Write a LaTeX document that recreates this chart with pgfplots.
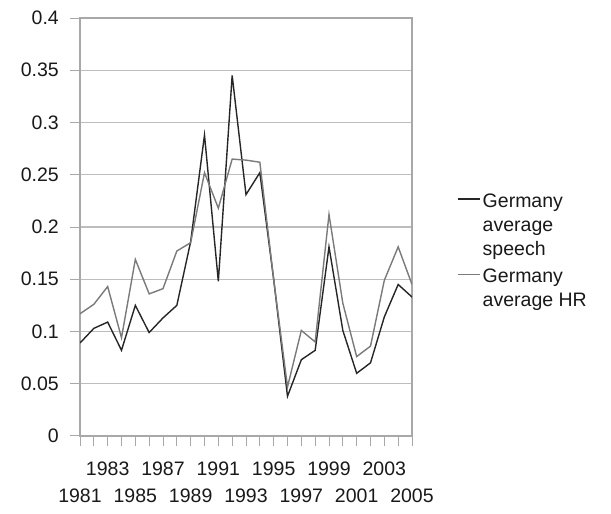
\documentclass[border=0pt]{standalone}
\usepackage{fontspec}
\setmainfont{Liberation Sans}
\usepackage{pgfplots}
\pgfplotsset{compat=1.18}
\definecolor{speechc}{HTML}{262626}
\definecolor{hrc}{HTML}{7A7A7A}
\definecolor{gridc}{HTML}{BDBDBD}
\definecolor{axc}{HTML}{A8A8A8}
\pgfplotstableread{
year speech hr
1981 0.089 0.117
1982 0.103 0.126
1983 0.109 0.143
1984 0.082 0.094
1985 0.125 0.169
1986 0.099 0.136
1987 0.113 0.141
1988 0.125 0.177
1989 0.186 0.185
1990 0.288 0.252
1991 0.148 0.218
1992 0.345 0.265
1993 0.231 0.264
1994 0.252 0.262
1995 0.150 0.150
1996 0.038 0.047
1997 0.073 0.101
1998 0.082 0.090
1999 0.181 0.212
2000 0.101 0.127
2001 0.060 0.076
2002 0.070 0.086
2003 0.114 0.149
2004 0.145 0.181
2005 0.133 0.145
}\datatable
\begin{document}
\begin{tikzpicture}
\path[use as bounding box] (0,0) rectangle (611bp,514bp);
\begin{axis}[
  at={(80bp,78bp)}, anchor=south west,
  scale only axis, width=332bp, height=418bp,
  xmin=1981, xmax=2005, ymin=0, ymax=0.4,
  ytick={0,0.05,0.1,0.15,0.2,0.25,0.3,0.35,0.4},
  yticklabels={0,0.05,0.1,0.15,0.2,0.25,0.3,0.35,0.4},
  xtick={1981,1985,1989,1993,1997,2001,2005},
  xticklabels={1981,1985,1989,1993,1997,2001,2005},
  extra x ticks={1983,1987,1991,1995,1999,2003},
  extra x tick labels={1983,1987,1991,1995,1999,2003},
  extra x tick style={grid=none, xticklabel style={yshift=27bp}},
  minor xtick={1982,1984,1986,1988,1990,1992,1994,1996,1998,2000,2002,2004},
  tick align=outside,
  major tick length=10bp, minor tick length=10bp,
  tick style={axc, line width=1bp},
  xtick pos=bottom, ytick pos=left,
  ymajorgrids, xmajorgrids=false,
  grid style={gridc, line width=1.3bp},
  axis line style={axc, line width=1.3bp},
  every tick label/.append style={font=\fontsize{19.5bp}{23bp}\selectfont, text=black!90},
  xticklabel style={anchor=north, inner sep=0pt, yshift=-43bp},
  yticklabel style={anchor=east, inner sep=0pt, xshift=-11bp},
  legend style={at={(1.127,0.59)}, anchor=north west, draw=none, fill=none,
    font=\fontsize{19.5bp}{24bp}\selectfont, text=black!90,
    cells={align=left}, row sep=8bp},
  legend cell align=left,
]
\addplot[speechc, line width=1.4bp,
  legend image code/.code={\path[draw=none] (0bp,-26bp) -- (0bp,26bp); \draw[speechc, line width=1.4bp] (0bp,26bp) -- (22bp,26bp);}]
  table[x=year, y=speech] {\datatable};
\addlegendentry{Germany\\average\\speech}
\addplot[hrc, line width=1.4bp,
  legend image code/.code={\path[draw=none] (0bp,-14bp) -- (0bp,14bp); \draw[hrc, line width=1.4bp] (0bp,14bp) -- (22bp,14bp);}]
  table[x=year, y=hr] {\datatable};
\addlegendentry{Germany\\average HR}
\end{axis}
\end{tikzpicture}
\end{document}
